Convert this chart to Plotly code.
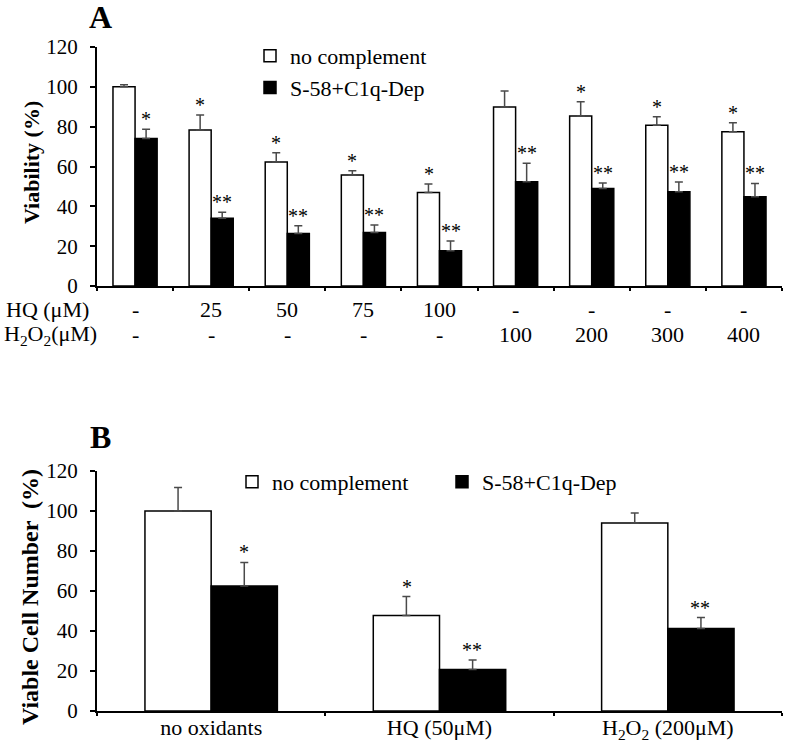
import plotly.graph_objects as go

# ---------------- Panel A data ----------------
hq_labels = ["-", "25", "50", "75", "100", "-", "-", "-", "-"]
h2o2_labels = ["-", "-", "-", "-", "-", "100", "200", "300", "400"]
a_categories = [f"HQ {h} / H2O2 {o}" for h, o in zip(hq_labels, h2o2_labels)]
a_nocomp = [100.0, 78.3, 62.2, 55.7, 47.0, 89.9, 85.3, 80.7, 77.5]
a_nocomp_err = [1.0, 7.5, 4.7, 2.2, 4.2, 8.0, 7.2, 4.3, 4.5]
a_dep = [74.1, 34.0, 26.4, 26.8, 17.7, 52.4, 49.0, 47.3, 44.8]
a_dep_err = [4.6, 3.0, 3.9, 3.8, 4.9, 9.2, 2.7, 4.9, 6.7]
a_nocomp_sig = ["", "*", "*", "*", "*", "", "*", "*", "*"]
a_dep_sig = ["*", "**", "**", "**", "**", "**", "**", "**", "**"]

# ---------------- Panel B data ----------------
b_categories = ["no oxidants", "HQ (50μM)", "H<sub>2</sub>O<sub>2</sub> (200μM)"]
b_nocomp = [100.0, 47.7, 94.0]
b_nocomp_err = [11.7, 9.5, 5.0]
b_dep = [62.5, 20.8, 41.3]
b_dep_err = [11.8, 4.7, 5.4]
b_nocomp_sig = ["", "*", ""]
b_dep_sig = ["*", "**", "**"]

series_names = ["no complement", "S-58+C1q-Dep"]

W, H = 786, 741
SERIF = "Liberation Serif, Times New Roman, serif"
ERR_COLOR = "#4a4a4a"


def px_x(p):
    return p / W


def px_y(p):
    return 1 - p / H


fig = go.Figure()


def bar(x, y, err, name, fill, xa, ya, legend, show):
    return go.Bar(
        x=x, y=y, name=name,
        marker=dict(color=fill, line=dict(color="black", width=1.5)),
        error_y=dict(type="data", symmetric=False, array=err,
                     arrayminus=[0] * len(err), color=ERR_COLOR,
                     thickness=1.5, width=4),
        xaxis=xa, yaxis=ya, legend=legend, showlegend=show,
    )


fig.add_trace(bar(a_categories, a_nocomp, a_nocomp_err, series_names[0], "white", "x", "y", "legend", True))
fig.add_trace(bar(a_categories, a_dep, a_dep_err, series_names[1], "black", "x", "y", "legend", True))
fig.add_trace(bar(b_categories, b_nocomp, b_nocomp_err, series_names[0], "white", "x2", "y2", "legend2", True))
fig.add_trace(bar(b_categories, b_dep, b_dep_err, series_names[1], "black", "x2", "y2", "legend2", True))

annotations = []

# significance stars
def stars(cats, vals, errs, sig, xref, yref, shift):
    for c, v, e, s in zip(cats, vals, errs, sig):
        if s:
            annotations.append(dict(
                x=c, y=v + e, xref=xref, yref=yref, text=s, showarrow=False,
                xshift=shift, yshift=10, yanchor="middle", xanchor="center",
                font=dict(family=SERIF, size=20, color="black")))

stars(a_categories, a_nocomp, a_nocomp_err, a_nocomp_sig, "x", "y", -11)
stars(a_categories, a_dep, a_dep_err, a_dep_sig, "x", "y", 11)
stars(b_categories, b_nocomp, b_nocomp_err, b_nocomp_sig, "x2", "y2", -32.5)
stars(b_categories, b_dep, b_dep_err, b_dep_sig, "x2", "y2", 32.5)

# Panel A condition rows
row_font = dict(family=SERIF, size=22, color="black")
ROW1, ROW2 = 309, 335
annotations.append(dict(x=px_x(4), y=px_y(ROW1), xref="paper", yref="paper",
                        text="HQ (μM)", showarrow=False, xanchor="left",
                        yanchor="middle", font=row_font))
annotations.append(dict(x=px_x(2), y=px_y(ROW2), xref="paper", yref="paper",
                        text="H<sub>2</sub>O<sub>2</sub>(μM)", showarrow=False,
                        xanchor="left", yanchor="middle", font=row_font))
for c, h, o in zip(a_categories, hq_labels, h2o2_labels):
    annotations.append(dict(x=c, y=px_y(ROW1), xref="x", yref="paper", text=h,
                            showarrow=False, xanchor="center", yanchor="middle",
                            font=row_font))
    annotations.append(dict(x=c, y=px_y(ROW2), xref="x", yref="paper", text=o,
                            showarrow=False, xanchor="center", yanchor="middle",
                            font=row_font))

# panel letters
for letter, yy in (("A", 17), ("B", 437)):
    annotations.append(dict(x=px_x(100), y=px_y(yy), xref="paper", yref="paper",
                            text=f"<b>{letter}</b>", showarrow=False,
                            xanchor="center", yanchor="middle",
                            font=dict(family=SERIF, size=32, color="black")))

# y titles
annotations.append(dict(x=px_x(32), y=px_y(163), xref="paper", yref="paper",
                        text="<b>Viability (%)</b>", textangle=-90, showarrow=False,
                        xanchor="center", yanchor="middle",
                        font=dict(family=SERIF, size=22, color="black")))
annotations.append(dict(x=px_x(30), y=px_y(597), xref="paper", yref="paper",
                        text="<b>Viable Cell Number  (%)</b>", textangle=-90,
                        showarrow=False, xanchor="center", yanchor="middle",
                        font=dict(family=SERIF, size=24, color="black")))

ytick_font = dict(family=SERIF, size=21, color="black")
xtick_font = dict(family=SERIF, size=22, color="black")
xdom = [px_x(97), px_x(782)]

yaxis_common = dict(range=[0, 120], dtick=20, showgrid=False, zeroline=False,
                    showline=True, linecolor="black", linewidth=2,
                    ticks="outside", ticklen=5, tickwidth=1.5, tickcolor="black",
                    tickfont=ytick_font, ticklabelstandoff=8, automargin=False)
xaxis_common = dict(type="category", showgrid=False, showline=True,
                    linecolor="black", linewidth=2, ticks="outside",
                    tickson="boundaries", ticklen=3, tickwidth=2,
                    tickcolor="black", tickfont=xtick_font, automargin=False)

fig.update_layout(
    template="none",
    width=W, height=H,
    margin=dict(l=0, r=0, t=0, b=0, pad=0, autoexpand=False),
    paper_bgcolor="white", plot_bgcolor="white",
    barmode="group", bargap=0.42, bargroupgap=0,
    font=dict(family=SERIF, color="black"),
    xaxis=dict(domain=xdom, anchor="y", showticklabels=False, **xaxis_common),
    yaxis=dict(domain=[px_y(286), px_y(47)], anchor="x", **yaxis_common),
    xaxis2=dict(domain=xdom, anchor="y2", showticklabels=True,
                ticklabelstandoff=-4, **xaxis_common),
    yaxis2=dict(domain=[px_y(711), px_y(471)], anchor="x2", **yaxis_common),
    legend=dict(x=px_x(250), y=px_y(35), xanchor="left", yanchor="top",
                orientation="v", font=dict(family=SERIF, size=22),
                bgcolor="rgba(0,0,0,0)", itemwidth=30),
    legend2=dict(x=px_x(232), y=px_y(482), xanchor="left", yanchor="middle",
                 orientation="h", font=dict(family=SERIF, size=22),
                 bgcolor="rgba(0,0,0,0)", itemwidth=30,
                 entrywidth=165, entrywidthmode="pixels"),
    annotations=annotations,
)

fig.write_html(
    "out.html",
    config={"displayModeBar": False},
    post_script="document.body.style.margin='0';document.body.style.overflow='hidden';",
)
